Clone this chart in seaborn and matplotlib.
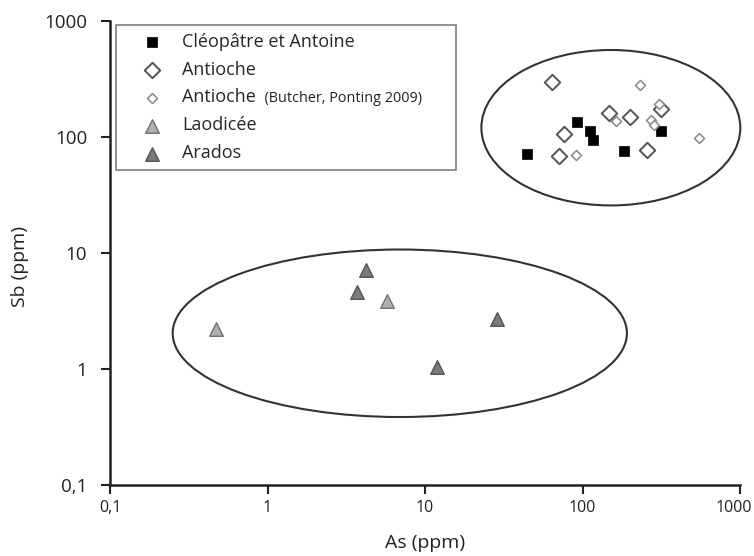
import numpy as np
import seaborn as sns
import matplotlib.pyplot as plt
from matplotlib.patches import Ellipse
from matplotlib.offsetbox import TextArea
from matplotlib.transforms import ScaledTranslation
from matplotlib.ticker import FixedLocator, FixedFormatter, NullLocator

sns.set_style("ticks")
plt.rcParams['font.family'] = ['Open Sans', 'DejaVu Sans']

# Cléopâtre et Antoine
cleo_as = [44.7, 91.9, 111.6, 117, 183, 313]
cleo_sb = [72, 135, 112, 94, 75.8, 113.7]

# Antioche
ant_as = [63.7, 76.3, 71, 148, 200, 258, 315]
ant_sb = [299, 106, 68, 160, 150, 77.3, 175]

# Antioche (Butcher, Ponting 2009)
but_as = [232, 163, 91, 272, 286, 306, 547]
but_sb = [278, 137, 69.5, 141, 128, 191, 99]

# Laodicée
lao_as = [0.471, 5.76]
lao_sb = [2.21, 3.89]

# Arados
ara_as = [4.22, 3.68, 28.5, 11.97]
ara_sb = [7.10, 4.62, 2.72, 1.04]

ticks = [0.1, 1, 10, 100, 1000]
tick_labels = ["0,1", "1", "10", "100", "1000"]

fig = plt.figure(figsize=(7.54, 5.56), dpi=100)
ax = fig.add_axes([110/754, 71/556, 630/754, 464/556])

sns.scatterplot(x=cleo_as, y=cleo_sb, ax=ax, marker="s", s=55, color="black",
                edgecolor="black", linewidth=0.5, label="Cléopâtre et Antoine", zorder=3)
sns.scatterplot(x=ant_as, y=ant_sb, ax=ax, marker="D", s=62, color="white",
                edgecolor="#555555", linewidth=1.4, label="Antioche", zorder=3)
sns.scatterplot(x=but_as, y=but_sb, ax=ax, marker="D", s=26, color="white",
                edgecolor="#888888", linewidth=1.1, label="Antioche", zorder=3)
sns.scatterplot(x=lao_as, y=lao_sb, ax=ax, marker="^", s=95, color="#b0b0b0",
                edgecolor="#707070", linewidth=1.0, label="Laodicée", zorder=3)
sns.scatterplot(x=ara_as, y=ara_sb, ax=ax, marker="^", s=95, color="#7a7a7a",
                edgecolor="#555555", linewidth=1.0, label="Arados", zorder=3)

ax.set_xscale("log")
ax.set_yscale("log")
ax.set_xlim(0.1, 1000)
ax.set_ylim(0.1, 1000)
ax.xaxis.set_major_locator(FixedLocator(ticks))
ax.xaxis.set_major_formatter(FixedFormatter(tick_labels))
ax.yaxis.set_major_locator(FixedLocator(ticks))
ax.yaxis.set_major_formatter(FixedFormatter(tick_labels))
ax.xaxis.set_minor_locator(NullLocator())
ax.yaxis.set_minor_locator(NullLocator())
ax.tick_params(axis="both", which="major", direction="out", length=6.5, width=1.5,
               colors="#222222")
ax.tick_params(axis="y", labelsize=13.5, pad=10)
ax.tick_params(axis="x", labelsize=11.5, pad=4)
for side in ["top", "right"]:
    ax.spines[side].set_visible(False)
for side in ["left", "bottom"]:
    ax.spines[side].set_linewidth(1.8)
    ax.spines[side].set_color("#222222")

ax.set_xlabel("As (ppm)", fontsize=14, color="#222222", labelpad=13)
ax.set_ylabel("Sb (ppm)", fontsize=14, color="#222222")
ax.yaxis.set_label_coords(-0.128, 0.47)

# ellipses around the groups
ax.add_patch(Ellipse((0.795, 0.770), 0.411, 0.335, transform=ax.transAxes,
                     fill=False, edgecolor="#333333", linewidth=1.5, clip_on=False))
ax.add_patch(Ellipse((0.460, 0.327), 0.721, 0.361, transform=ax.transAxes,
                     fill=False, edgecolor="#333333", linewidth=1.5, clip_on=False))

leg = ax.legend(loc="upper left", bbox_to_anchor=(0.0095, 0.9905), frameon=True,
                fancybox=False, edgecolor="#888888", framealpha=1, fontsize=13,
                labelspacing=0.55, handlelength=3.2, handletextpad=0.07,
                borderpad=0.4, borderaxespad=0)
leg.get_frame().set_linewidth(1.3)

# smaller reference note inside the third legend row
row = leg._legend_handle_box.get_children()[0].get_children()[2]
note = TextArea("  (Butcher, Ponting 2009)" + " " * 7,
                textprops=dict(fontsize=10.4, color="#222222"))
note.set_figure(fig)
row.get_children().append(note)

# last x tick label sits a little left of its tick, inside the figure
last = ax.xaxis.get_major_ticks()[-1].label1
last.set_transform(last.get_transform() + ScaledTranslation(-6/100, 0, fig.dpi_scale_trans))

fig.savefig("out.png", dpi=100)
